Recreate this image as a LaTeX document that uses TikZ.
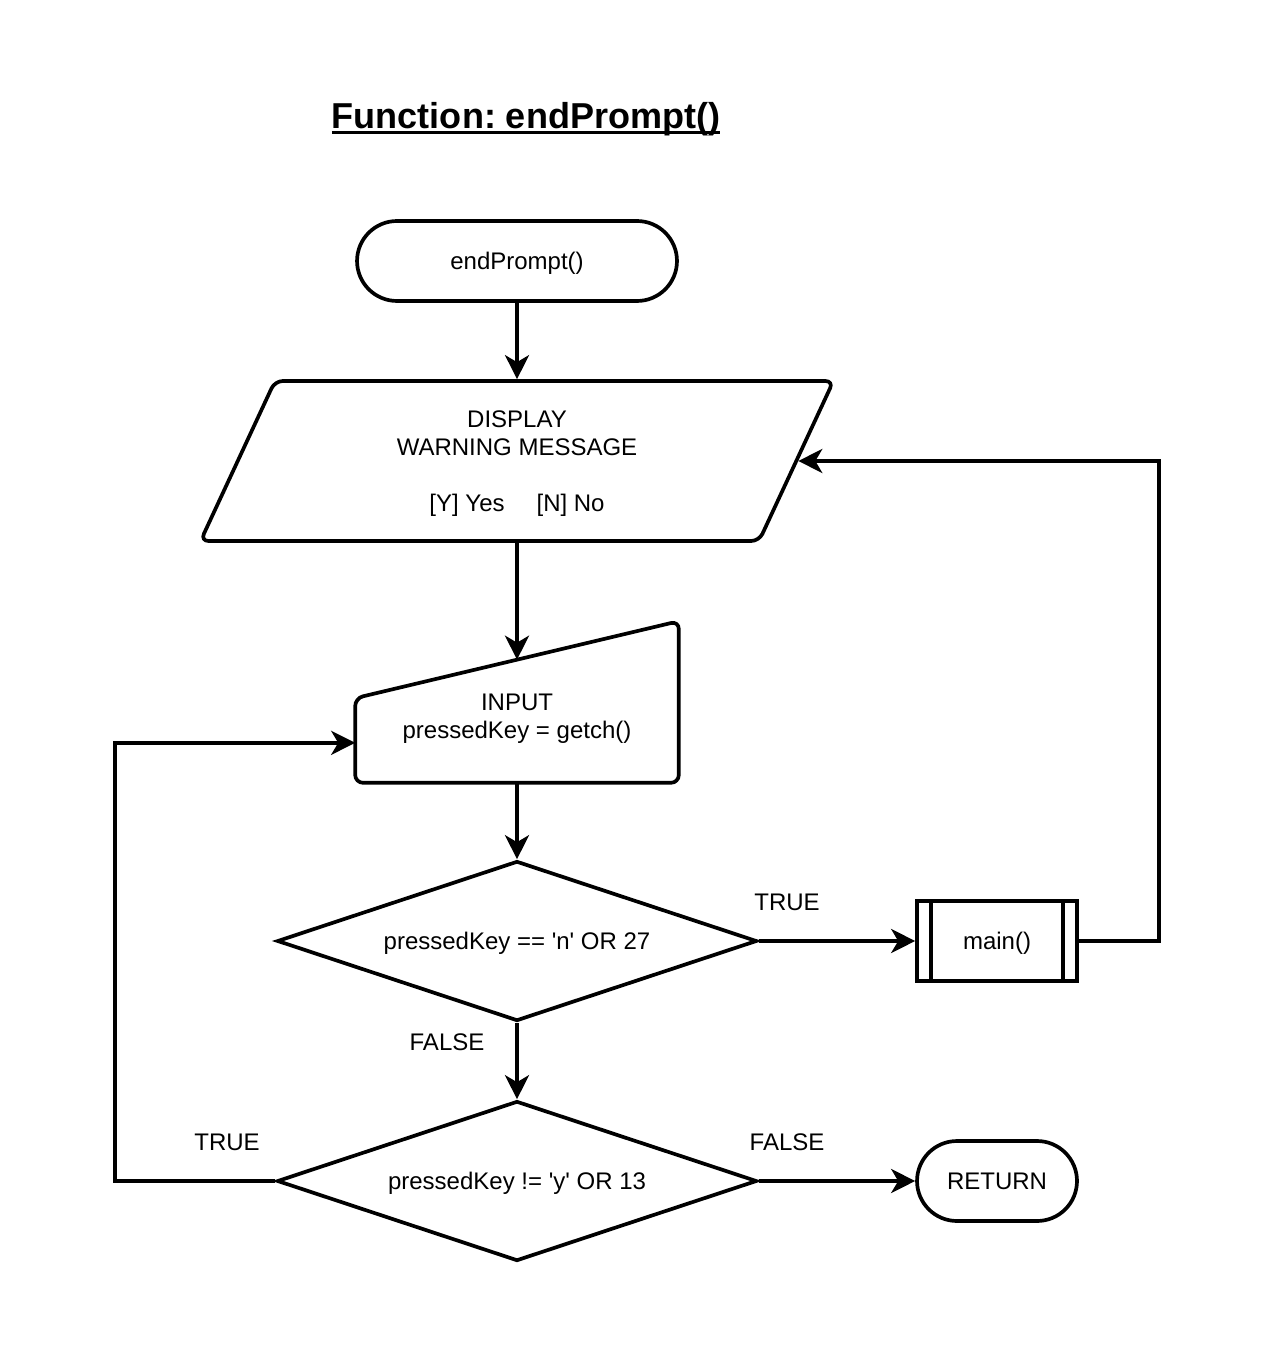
\documentclass[tikz,border=0pt]{standalone}
\usepackage{fontspec}
\setmainfont[Ligatures=TeXOff]{Liberation Sans}
\usetikzlibrary{shapes.geometric,arrows.meta,calc}
\newcommand{\titleline}[1]{\setbox0\hbox{#1}\rlap{\rule[-3.2pt]{\wd0}{1.5pt}}\box0}

\begin{document}
\begin{tikzpicture}[x=0.02cm,y=-0.02cm,line width=2.1pt,
            every node/.style={font=\fontsize{13.66}{15.9}\selectfont,align=center},
            oneline/.style={text height=9.8pt,text depth=0pt},
            terminal/.style={draw,rectangle,oneline,rounded corners=0.8cm,minimum height=1.6cm},
            io/.style={draw,trapezium,trapezium left angle=56.5,trapezium right angle=123.5,trapezium stretches body,
              minimum width=12.66cm,minimum height=3.2cm,rounded corners=4.5pt,text depth=0pt},
            decision/.style={draw,diamond,oneline,aspect=3,minimum width=9.6cm,minimum height=3.2cm,inner sep=0pt},
            subproc/.style={draw,rectangle,oneline,minimum width=3.2cm,minimum height=1.6cm},
            answer/.style={oneline,inner sep=0pt},
            arrow/.style={-{Stealth[length=0.48cm,width=0.48cm,inset=0.14cm]}}]
  \useasboundingbox (0,0) rectangle (1274,1364);
  \node[font=\fontsize{20.5}{24}\selectfont\bfseries] (title) at (526,119) {\frenchspacing\titleline{Function: endPrompt()}};
  \node[terminal,minimum width=6.4cm] (start) at (517,261) {endPrompt()};
  \node[io] (warn) at (517,461) {DISPLAY\\WARNING MESSAGE\\[0.56cm]{[Y]} Yes\hspace{0.64cm}[N] No};
  \node[minimum width=6.4cm,minimum height=3.16cm,text depth=0pt] (input) at (517,702) {\vphantom{I}\\INPUT\\pressedKey = getch()};
  \draw[rounded corners=4.5pt] (input.south west) -- ($(input.north west)+(0,77)$) -- (input.north east)
    -- (input.south east) -- cycle;
  \coordinate (inputtop) at ($(input.north)+(0,38.5)$);
  \coordinate (inputleft) at ($(input.south west)+(0,-40)$);
  \node[decision] (checkn) at (517,941) {pressedKey == 'n' OR 27};
  \node[subproc] (main) at (997,941) {main()};
  \draw ([xshift=0.32cm]main.north west) -- ([xshift=0.32cm]main.south west);
  \draw ([xshift=-0.32cm]main.north east) -- ([xshift=-0.32cm]main.south east);
  \node[decision] (checky) at (517,1181) {pressedKey != 'y' OR 13};
  \node[terminal,minimum width=3.2cm] (return) at (997,1181) {RETURN};

  \node[answer] (ntrue) at (787,902) {TRUE};
  \node[answer] (nfalse) at (447,1042) {FALSE};
  \node[answer] (yfalse) at (787,1142) {FALSE};
  \node[answer] (ytrue) at (227,1142) {TRUE};

  \draw[arrow] (start) -- (warn);
  \draw[arrow] (warn) -- (inputtop);
  \draw[arrow] (input) -- (checkn);
  \draw[arrow] (checkn) -- (main);
  \draw[arrow] (main.east) -- ++(80,0) |- (warn.east);
  \draw[arrow] (checkn) -- (checky);
  \draw[arrow] (checky) -- (return);
  \draw[arrow] (checky.west) -- ++(-160,0) |- (inputleft);
\end{tikzpicture}
\end{document}
